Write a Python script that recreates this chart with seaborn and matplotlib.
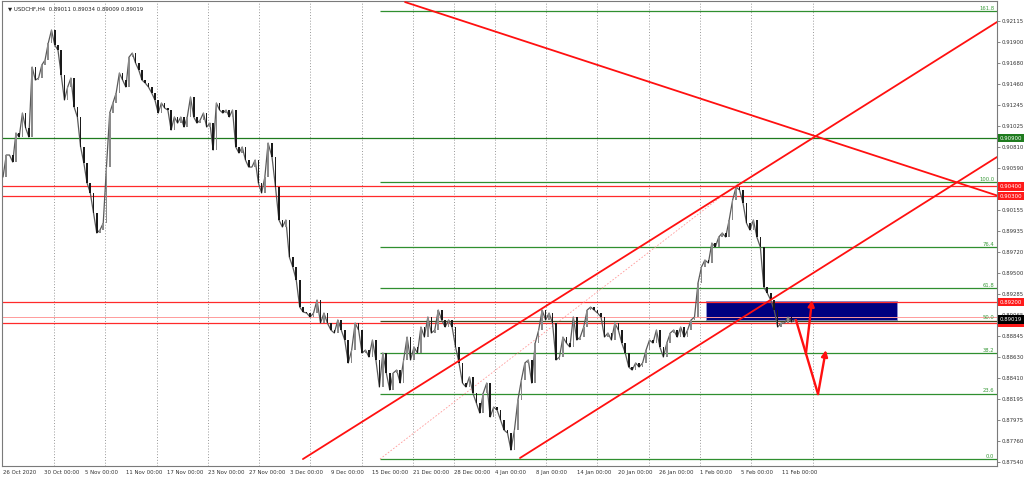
import numpy as np
import pandas as pd
import matplotlib
matplotlib.use("Agg")
import matplotlib.pyplot as plt
import matplotlib.transforms as mtransforms
from matplotlib.patches import Rectangle
import seaborn as sns

# USDCHF H4 closes, 26 Oct -> 27 Nov 2020
closes_a = [
    0.90498, 0.90726, 0.90726, 0.90653, 0.90954, 0.90912, 0.91161, 0.91006, 0.90912, 0.91638,
    0.91503, 0.91524, 0.91659, 0.91711, 0.91887, 0.92022, 0.91866, 0.91814, 0.91555, 0.91296,
    0.91431, 0.91524, 0.91223, 0.91120, 0.90809, 0.90643, 0.90435, 0.90332, 0.90124, 0.89917,
    0.89948, 0.90020, 0.90601, 0.91161, 0.91265, 0.91369, 0.91576, 0.91503, 0.91431, 0.91742,
    0.91783, 0.91680, 0.91607, 0.91503, 0.91472, 0.91431, 0.91369, 0.91296, 0.91161, 0.91265,
    0.91213, 0.91192, 0.90985, 0.91120, 0.91057, 0.91120, 0.91016, 0.91120, 0.91327, 0.91120,
    0.91057, 0.91089, 0.91161, 0.91016, 0.91057, 0.90777, 0.91265, 0.91192, 0.91161, 0.91192,
    0.91120, 0.91192, 0.90809, 0.90746, 0.90809, 0.90674, 0.90601, 0.90601, 0.90674, 0.90435,
    0.90332, 0.90498, 0.90850]
# 27 Nov 2020 -> 12 Feb 2021
closes_b = [
    0.90705, 0.90394, 0.90052, 0.89979, 0.90052, 0.89668, 0.89564, 0.89429, 0.89149, 0.89098,
    0.89087, 0.89046, 0.89087, 0.89222, 0.88983, 0.89087, 0.88983, 0.88911, 0.88880, 0.89015,
    0.88911, 0.88807, 0.88569, 0.88703, 0.88983, 0.88911, 0.88672, 0.88703, 0.88631, 0.88807,
    0.88600, 0.88320, 0.88672, 0.88465, 0.88289, 0.88465, 0.88496, 0.88361, 0.88600, 0.88838,
    0.88600, 0.88735, 0.88672, 0.88942, 0.88838, 0.89046, 0.88880, 0.88911, 0.89118, 0.89015,
    0.88942, 0.89015, 0.88942, 0.88735, 0.88569, 0.88361, 0.88320, 0.88424, 0.88258, 0.88154,
    0.88050, 0.88258, 0.88361, 0.88009, 0.88112, 0.88081, 0.87978, 0.87874, 0.87843, 0.87666,
    0.87874, 0.88185, 0.88392, 0.88569, 0.88600, 0.88361, 0.88776, 0.88911, 0.89118, 0.89015,
    0.89087, 0.88983, 0.88600, 0.88631, 0.88838, 0.88776, 0.88735, 0.89046, 0.88807, 0.88838,
    0.88942, 0.89118, 0.89149, 0.89118, 0.89087, 0.89046, 0.88838, 0.88880, 0.88807, 0.88983,
    0.88911, 0.88776, 0.88672, 0.88527, 0.88496, 0.88569, 0.88527, 0.88569, 0.88703, 0.88807,
    0.88776, 0.88911, 0.88735, 0.88631, 0.88776, 0.88880, 0.88911, 0.88838, 0.88942, 0.88838,
    0.88911, 0.89015, 0.89046, 0.89398, 0.89564, 0.89637, 0.89606, 0.89813, 0.89772, 0.89875,
    0.89917, 0.89875, 0.90052, 0.90259, 0.90394, 0.90363, 0.90228, 0.90020, 0.89948, 0.90052,
    0.89875, 0.89772, 0.89357, 0.89295, 0.89222, 0.89118, 0.88942, 0.88983, 0.88983, 0.89046,
    0.88994, 0.89019]
seg_a = (0.0, 155.2)      # H4 bar span of closes_a
seg_b = (157.5, 463.7)    # H4 bar span of closes_b

date_labels = ['26 Oct 2020', '30 Oct 00:00', '5 Nov 00:00', '11 Nov 00:00', '17 Nov 00:00',
               '23 Nov 00:00', '27 Nov 00:00', '3 Dec 00:00', '9 Dec 00:00', '15 Dec 00:00',
               '21 Dec 00:00', '28 Dec 00:00', '4 Jan 00:00', '8 Jan 00:00', '14 Jan 00:00',
               '20 Jan 00:00', '26 Jan 00:00', '1 Feb 00:00', '5 Feb 00:00', '11 Feb 00:00']
label_step = 24  # bars between date labels
week_lines = [30, 60, 90, 120, 150, 180, 210, 240, 264, 288, 318, 348, 378, 408, 438, 474]
x_max = 582

price_ticks = [0.92115, 0.91900, 0.91680, 0.91460, 0.91245, 0.91025, 0.90810, 0.90590,
               0.90375, 0.90155, 0.89935, 0.89720, 0.89500, 0.89285, 0.89065, 0.88845,
               0.88630, 0.88410, 0.88195, 0.87975, 0.87760, 0.87540]
y_range = (0.87501, 0.92323)

green_level = 0.90900
red_levels = [0.90400, 0.90300, 0.89200, 0.88987]
pink_level = 0.89046
bid = 0.89019

fib_start = (220.7, 0.87573)
fib_end = (431.5, 0.90445)
fib_ratios = [0.0, 23.6, 38.2, 50.0, 61.8, 76.4, 100.0, 161.8]

upper_channel = [(175.6, 0.87573), (582.0, 0.92105)]
lower_channel = [(302.7, 0.87584), (582.0, 0.90705)]
falling_line = [(235.4, 0.92312), (582.0, 0.90306)]

zone_bars = (411.6, 523.4)
zone_prices = (0.89020, 0.89212)

path_down = [(464.3, 0.89015), (477.2, 0.88247)]
arrow_up_1 = [(470.1, 0.88662), (473.7, 0.89222)]
arrow_up_2 = [(477.2, 0.88247), (481.8, 0.88703)]

sns.set_style("white")
plt.rcParams['font.family'] = ['DejaVu Sans']

fig = plt.figure(figsize=(10.24, 4.8), dpi=100)
ax = fig.add_axes([2 / 1024, 14 / 480, 995 / 1024, 465 / 480])

# candles: open = previous close
df = pd.DataFrame({
    'bar': np.r_[np.linspace(*seg_a, len(closes_a)), np.linspace(*seg_b, len(closes_b))],
    'close': closes_a + closes_b,
})
df['open'] = df['close'].shift(1).fillna(df['close'])
df['up'] = df['close'] >= df['open']

for b in week_lines:
    ax.axvline(b, color='#8c8c8c', lw=0.6, ls=(0, (1.2, 2.2)), zorder=0)

ax.add_patch(Rectangle((zone_bars[0], zone_prices[0]), zone_bars[1] - zone_bars[0],
                       zone_prices[1] - zone_prices[0], fc='#000080', ec='#9090d0',
                       lw=0.6, zorder=1))

sns.lineplot(data=df, x='bar', y='close', color='#5a5a5a', lw=0.9, ax=ax, zorder=3)
for up, col in [(True, '#8a8a8a'), (False, '#1a1a1a')]:
    d = df[df['up'] == up]
    ax.bar(d['bar'], (d['close'] - d['open']).abs().clip(lower=0.00004),
           bottom=d[['open', 'close']].min(axis=1), width=0.95, color=col, lw=0, zorder=4)

# horizontal levels
ax.axhline(green_level, color='#1e7b1e', lw=0.9, zorder=2)
for p in red_levels:
    ax.axhline(p, color='#ff2a2a', lw=0.9, zorder=2)
ax.axhline(pink_level, color='#ff9a9a', lw=0.7, zorder=2)

# fibonacci retracement
rng = fib_end[1] - fib_start[1]
for r in fib_ratios:
    lvl = fib_start[1] + rng * r / 100
    col = '#3e4a1c' if r == 50.0 else '#2f8f2f'
    ax.hlines(lvl, fib_start[0], x_max, color=col, lw=0.9, zorder=2)
    ax.text(x_max - 1.5, lvl + 0.00003, f'{r:.1f}', color='#3a9a3a', fontsize=3.8,
            ha='right', va='bottom', zorder=6)
ax.plot([fib_start[0], fib_end[0]], [fib_start[1], fib_end[1]], color='#ff9a9a',
        lw=0.6, ls=(0, (2, 2)), zorder=2)

# trend lines
for line in (upper_channel, lower_channel, falling_line):
    (x0, y0), (x1, y1) = line
    ax.plot([x0, x1], [y0, y1], color='#ff1010', lw=1.3, zorder=5)

# projected path
ax.plot([p[0] for p in path_down], [p[1] for p in path_down], color='#ff1010', lw=1.7,
        zorder=6, solid_capstyle='round')
for (x0, y0), (x1, y1) in (arrow_up_1, arrow_up_2):
    ax.annotate('', xy=(x1, y1), xytext=(x0, y0), zorder=6,
                arrowprops=dict(arrowstyle='-|>', color='#ff1010', lw=1.7,
                                mutation_scale=9, shrinkA=0, shrinkB=0))

ax.set_xlim(-0.6, x_max)
ax.set_ylim(*y_range)

# axes styling, MT4 look
for s in ax.spines.values():
    s.set_color('#7a7a7a')
    s.set_linewidth(0.8)
ax.yaxis.tick_right()
ax.set_yticks(price_ticks)
ax.set_yticklabels([f'{p:.5f}' for p in price_ticks])
ax.set_xticks([i * label_step for i in range(len(date_labels))])
ax.set_xticklabels(date_labels, ha='left')
ax.tick_params(axis='both', labelsize=3.9, labelcolor='#333333', length=2, width=0.5,
               pad=1.2, color='#555555')
ax.set_xlabel('')
ax.set_ylabel('')

# coloured price tags on the scale
trans = mtransforms.blended_transform_factory(ax.transAxes, ax.transData)
tags = [(green_level, '#1e7b1e', 'white')] + [(p, '#ff1a1a', 'white') for p in red_levels] \
    + [(bid, '#000000', 'white')]
for p, bg, fg in tags:
    ax.text(1.0028, p, f'{p:.5f}', transform=trans, fontsize=3.9, color=fg, ha='left',
            va='center', clip_on=False, zorder=10,
            bbox=dict(boxstyle='square,pad=0.3', fc=bg, ec='none'))

ax.text(0.006, 0.988, '\u25bc USDCHF,H4  0.89011 0.89034 0.89009 0.89019',
        transform=ax.transAxes, fontsize=3.9, color='#222222', ha='left', va='top', zorder=10)

fig.savefig('out.png', dpi=100, facecolor='white')
